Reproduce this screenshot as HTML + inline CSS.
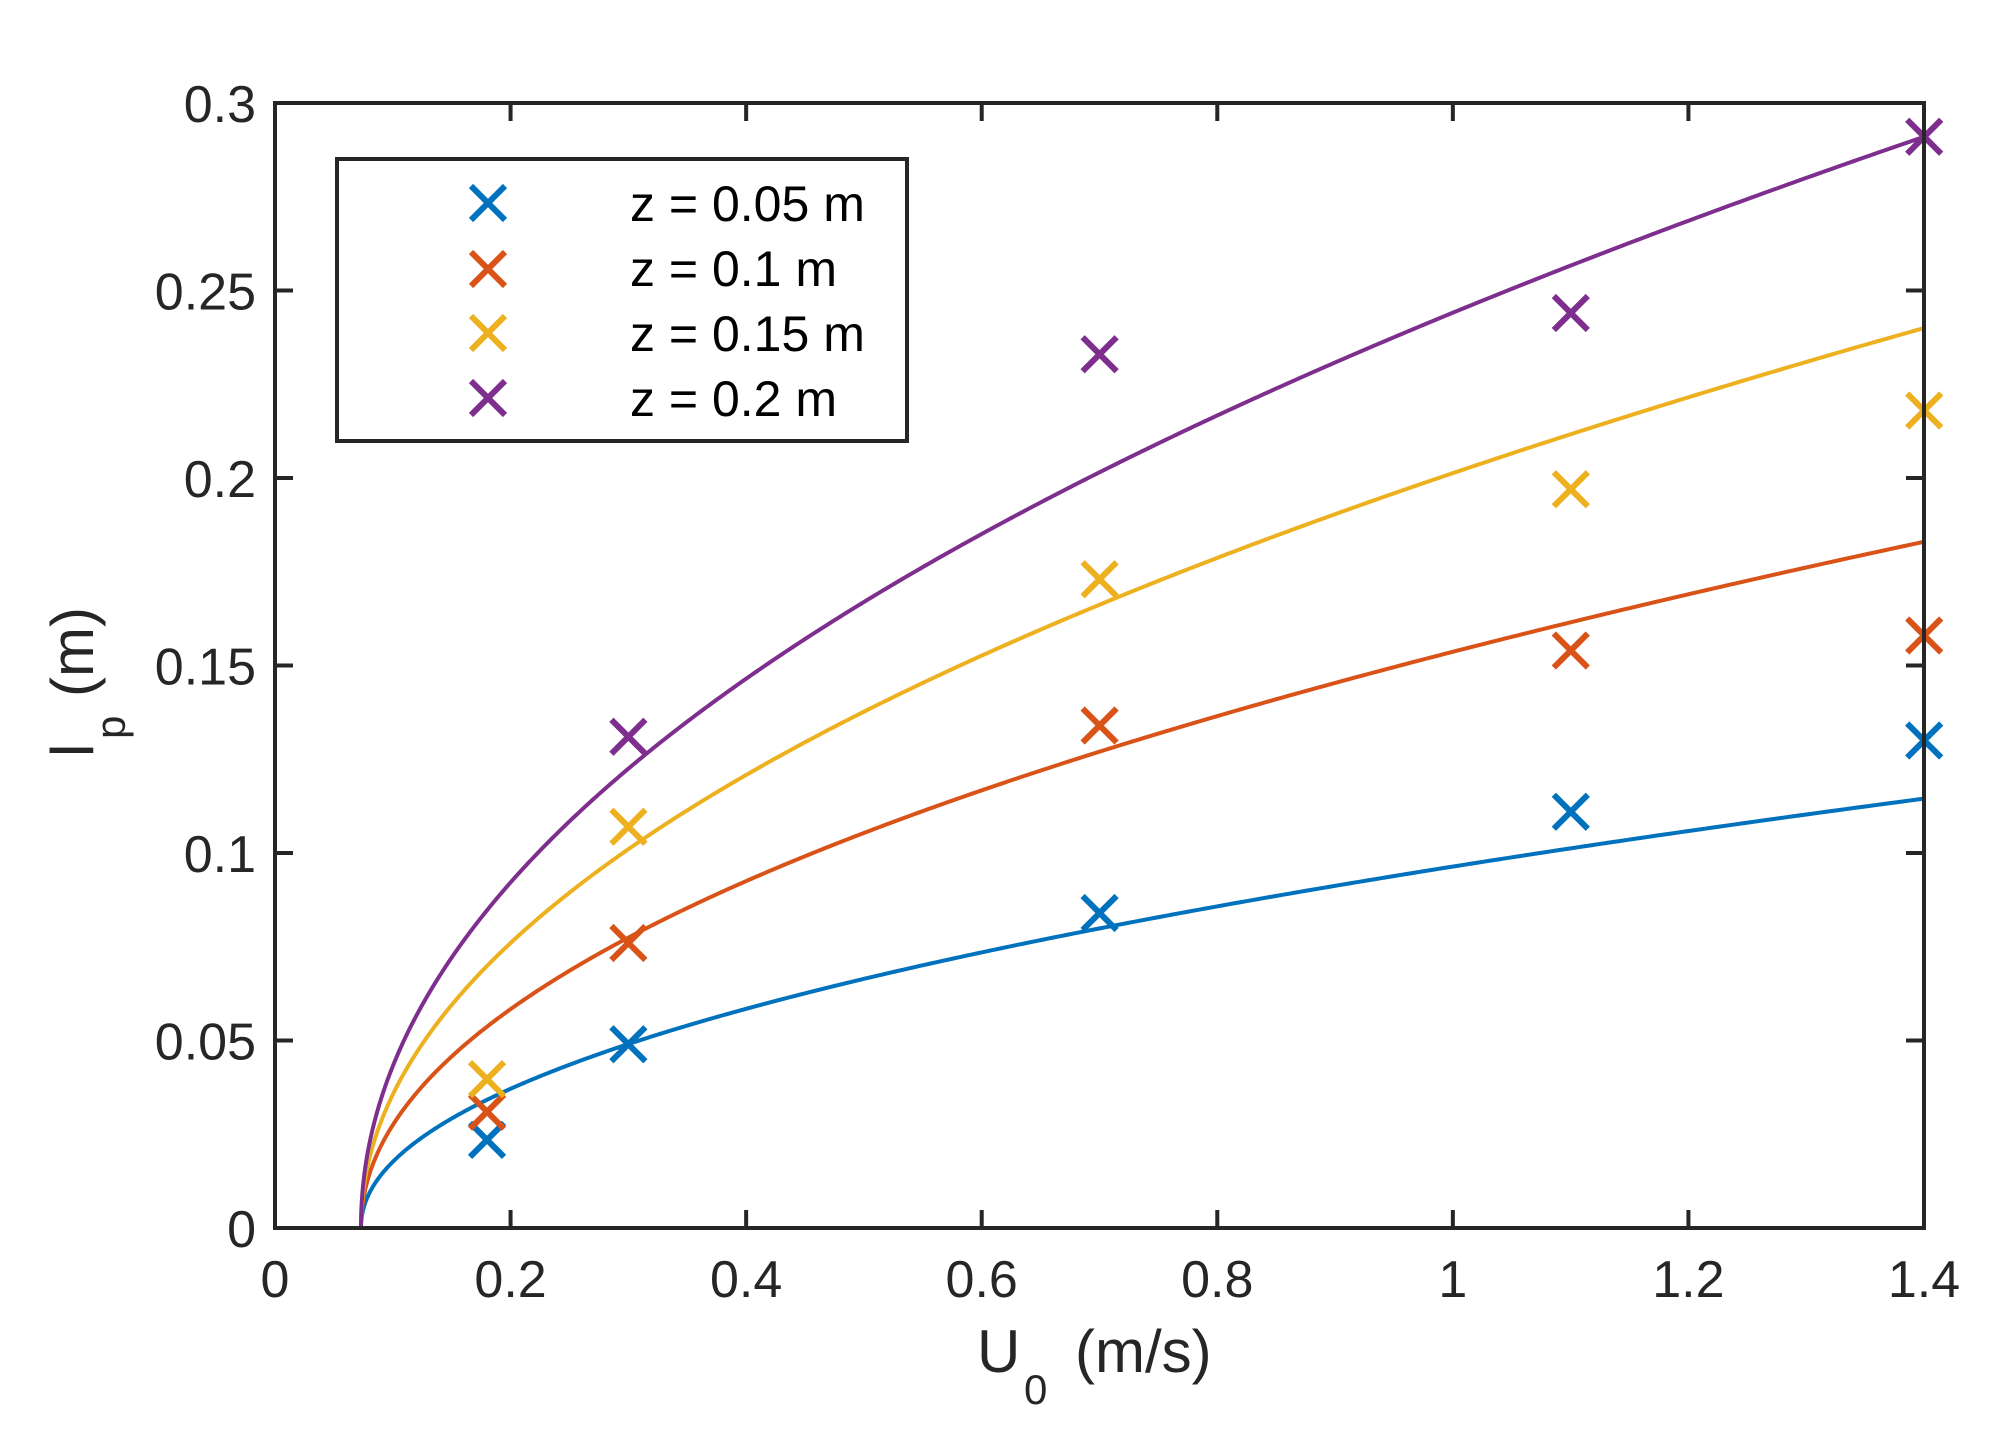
<!DOCTYPE html>
<html><head><meta charset="utf-8"><style>
html,body{margin:0;padding:0;background:#fff;}
svg{display:block;}
text{font-family:"Liberation Sans",Arial,sans-serif;fill:#262626;}
</style></head><body>
<svg id="s" width="2015" height="1441" viewBox="0 0 2015 1441" xmlns="http://www.w3.org/2000/svg">
<rect width="2015" height="1441" fill="#fff"/>
<g id="curves" fill="none" stroke-width="4" stroke-linejoin="round"></g>
<g id="marks" fill="none" stroke-width="6"></g>
<g id="axes" stroke="#262626" stroke-width="4" fill="none"></g>
<g id="labels" font-size="52"></g>
<text x="977" y="1372" font-size="60">U</text>
<text x="1024" y="1404" font-size="42">0</text>
<text x="1075" y="1372" font-size="60">(m/s)</text>
<g transform="translate(93,757) rotate(-90)">
<text x="0" y="0" font-size="60">l</text>
<text x="18" y="32" font-size="42">p</text>
<text x="60" y="0" font-size="60">(m)</text>
</g>
<rect x="337" y="159" width="570" height="282" fill="#fff" stroke="#262626" stroke-width="4"/>
<g id="leg" stroke-width="6"></g>
<g font-size="50" fill="#000">
<text x="630" y="221" style="fill:#000">z = 0.05 m</text>
<text x="630" y="286" style="fill:#000">z = 0.1 m</text>
<text x="630" y="351" style="fill:#000">z = 0.15 m</text>
<text x="630" y="416" style="fill:#000">z = 0.2 m</text>
</g>
</svg>
<script>
var NS="http://www.w3.org/2000/svg";
function X(u){return 275+u*1178;}
function Y(v){return 1228-v*3750;}
function el(p,t,a){var e=document.createElementNS(NS,t);for(var k in a)e.setAttribute(k,a[k]);p.appendChild(e);return e;}
var cols=["#0072BD","#D95319","#EDB120","#7E2F8E"];
var end=[0.1145,0.183,0.240,0.291];
var pw=[0.48,0.487,0.49,0.49];
var cg=document.getElementById("curves");
for(var i=0;i<4;i++){
  var a=end[i]/Math.pow(1.4-0.073,pw[i]);var d="";
  for(var k=0;k<=400;k++){var t=k/400;var u=0.073+(1.4-0.073)*Math.pow(t,2);
    var v=a*Math.pow(u-0.073,pw[i]);d+=(k?"L":"M")+X(u).toFixed(2)+" "+Y(v).toFixed(2);}
  el(cg,"path",{d:d,stroke:cols[i]});
}
var xs=[0.18,0.3,0.7,1.1,1.4];
var data=[[0.0235,0.049,0.084,0.111,0.130],[0.031,0.076,0.134,0.154,0.158],[0.0397,0.107,0.173,0.197,0.218],[null,0.131,0.233,0.244,0.291]];
var mg=document.getElementById("marks");
function mark(g,x,y,c){var h=17;el(g,"path",{d:"M"+(x-h)+" "+(y-h)+"L"+(x+h)+" "+(y+h)+"M"+(x-h)+" "+(y+h)+"L"+(x+h)+" "+(y-h),stroke:c});}
for(var i=0;i<4;i++)for(var j=0;j<5;j++)if(data[i][j]!==null)mark(mg,X(xs[j]),Y(data[i][j]),cols[i]);
var ax=document.getElementById("axes");
el(ax,"rect",{x:275,y:103,width:1649,height:1125});
var lg=document.getElementById("labels");
for(var j=0;j<=7;j++){var x=275+j*235.57;
  el(ax,"path",{d:"M"+x+" 1228V1210M"+x+" 103V121"});
  var t=el(lg,"text",{x:x,y:1297,"text-anchor":"middle"});t.textContent=(j==0?"0":j==5?"1":(j*0.2).toFixed(1).replace(/\.0$/,""));}
for(var j=0;j<=6;j++){var y=1228-j*187.5;
  el(ax,"path",{d:"M275 "+y+"H293M1924 "+y+"H1906"});
  var t=el(lg,"text",{x:256,y:y+19,"text-anchor":"end"});var v=j*0.05;t.textContent=(j==0?"0":String(+v.toFixed(2)));}
var leg=document.getElementById("leg");
var ry=[203,269,333,398];
for(var i=0;i<4;i++)mark(leg,488,ry[i],cols[i]);
</script>
</body></html>
